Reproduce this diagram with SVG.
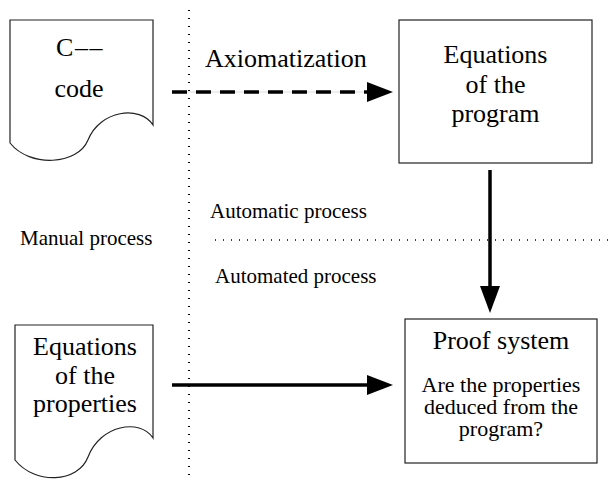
<svg xmlns="http://www.w3.org/2000/svg" width="609" height="479" viewBox="0 0 609 479">
<style>
  .shape { fill: #fff; stroke: #222; stroke-width: 1.2; }
  .big { font-family: "Liberation Serif", "Times New Roman", serif; font-size: 26px; fill: #000; text-anchor: middle; }
  .mid { font-family: "Liberation Serif", "Times New Roman", serif; font-size: 22px; fill: #000; text-anchor: middle; }
  .lbl { font-family: "Liberation Serif", "Times New Roman", serif; font-size: 21px; fill: #000; }
  .dotv { stroke: #000; stroke-width: 2; stroke-dasharray: 1 7; fill: none; }
  .doth { stroke: #000; stroke-width: 1.5; stroke-dasharray: 1 7; fill: none; }
  .conn { stroke: #000; stroke-width: 3.5; fill: none; }
  .head { fill: #000; stroke: none; }
</style>
<rect width="609" height="479" fill="#fff"/>

<g id="separators">
  <line class="dotv" x1="189" y1="10" x2="189" y2="479"/>
  <line class="doth" x1="215" y1="240" x2="609" y2="240"/>
</g>

<g id="labels">
  <text class="lbl" x="210" y="218">Automatic process</text>
  <text class="lbl" x="20" y="245">Manual process</text>
  <text class="lbl" x="215" y="283">Automated process</text>
  <text class="big" x="205" y="67" style="text-anchor:start">Axiomatization</text>
</g>

<g id="c-code">
  <path class="shape" d="M10,20 H153 V125 C140,105 100,110 88,140 C78,165 30,168 10,143 Z"/>
  <text class="big" x="80" y="56" style="letter-spacing:1.5px">C––</text>
  <text class="big" x="79" y="97">code</text>
</g>

<g id="eq-properties">
  <path class="shape" d="M15,325 H153 V438 C140,418 100,425 88,457 C78,483 35,485 15,460 Z"/>
  <text class="big" x="85" y="355">Equations</text>
  <text class="big" x="85" y="384">of the</text>
  <text class="big" x="85" y="412">properties</text>
</g>

<g id="eq-program">
  <rect class="shape" x="399" y="20" width="193" height="143"/>
  <text class="big" x="495.5" y="63">Equations</text>
  <text class="big" x="495.5" y="93">of the</text>
  <text class="big" x="495.5" y="122">program</text>
</g>

<g id="proof-system">
  <rect class="shape" x="405" y="319" width="192" height="144"/>
  <text class="big" x="501" y="349">Proof system</text>
  <text class="mid" x="501" y="392">Are the properties</text>
  <text class="mid" x="501" y="414">deduced from the</text>
  <text class="mid" x="501" y="436">program?</text>
</g>

<g id="connectors">
  <line x1="172" y1="92" x2="368" y2="92" stroke="#ddd" stroke-width="1"/>
  <line class="conn" x1="172" y1="92" x2="368" y2="92" stroke-dasharray="15 9"/>
  <polygon class="head" points="367,82 393,92 367,102"/>
  <line class="conn" x1="172" y1="385" x2="368" y2="385"/>
  <polygon class="head" points="367,375 393,385 367,395"/>
  <line class="conn" x1="490" y1="170" x2="490" y2="288"/>
  <polygon class="head" points="480,286 500,286 490,313"/>
</g>
</svg>
